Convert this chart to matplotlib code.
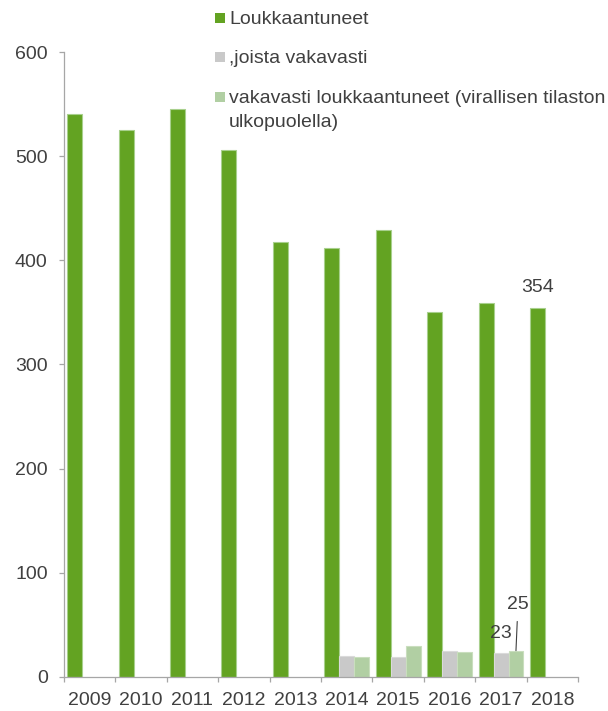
import numpy as np
import matplotlib.pyplot as plt
from matplotlib.patches import Rectangle
from matplotlib.ticker import FixedLocator, NullFormatter

plt.rcParams['font.family'] = ['Liberation Sans', 'DejaVu Sans']

years = ['2009', '2010', '2011', '2012', '2013', '2014', '2015', '2016', '2017', '2018']
injured = [541, 525, 546, 506, 418, 412, 429, 350, 359, 354]
serious = [None, None, None, None, None, 20, 19, 25, 23, None]
serious_outside = [None, None, None, None, None, 19, 29, 24, 25, None]

labels = ['Loukkaantuneet', ',joista vakavasti',
          'vakavasti loukkaantuneet (virallisen tilaston\nulkopuolella)']
GREEN = '#63A322'
GREY = '#C9C9C9'
LIGHT = '#B1CFA3'
TEXT = '#404040'
AXIS = '#A6A6A6'
FS = 14

W, H = 608, 711
x = np.arange(len(years))
w = 0.29

fig = plt.figure(figsize=(W / 100, H / 100), dpi=100)
ax = fig.add_axes([0.105, 0.0483, 0.846, 0.8781])

def vals(seq):
    return [np.nan if v is None else v for v in seq]

ax.bar(x - w, injured, w, color=GREEN, edgecolor='#A8D08D', linewidth=0.8)
ax.bar(x, vals(serious), w, color=GREY, edgecolor='#DADADA', linewidth=0.8)
ax.bar(x + w, vals(serious_outside), w, color=LIGHT, edgecolor='#C9DEBE', linewidth=0.8)

ax.set_xlim(-0.5, len(years) - 0.5)
ax.set_ylim(0, 600)
ax.set_yticks(range(0, 601, 100))

# category boundaries carry the tick marks, centres carry the year labels
ax.xaxis.set_major_locator(FixedLocator(np.arange(-0.5, len(years), 1.0)))
ax.xaxis.set_major_formatter(NullFormatter())
ax.set_xticks(x, minor=True)
ax.set_xticklabels(years, minor=True)
ax.tick_params(axis='x', which='major', length=3.6, color=AXIS, width=0.9)
ax.tick_params(axis='x', which='minor', length=0, pad=11, labelsize=FS, labelcolor=TEXT)
ax.tick_params(axis='y', length=3.6, color=AXIS, width=0.9, pad=8, labelsize=FS, labelcolor=TEXT)

for side in ['top', 'right']:
    ax.spines[side].set_visible(False)
for side in ['left', 'bottom']:
    ax.spines[side].set_color(AXIS)
    ax.spines[side].set_linewidth(0.9)

# value labels
ax.annotate(str(injured[9]), xy=(x[9] - w, injured[9]), xytext=(0, 12),
            textcoords='offset pixels', ha='center', va='bottom', fontsize=FS, color=TEXT)
ax.annotate(str(serious[8]), xy=(x[8], serious[8]), xytext=(0, 19),
            textcoords='offset pixels', ha='center', va='center', fontsize=FS, color=TEXT)
ax.annotate(str(serious_outside[8]), xy=(x[8] + w, serious_outside[8]), xytext=(2, 46),
            textcoords='offset pixels', ha='center', va='center', fontsize=FS, color=TEXT,
            arrowprops=dict(arrowstyle='-', color=TEXT, lw=0.8, shrinkA=4, shrinkB=0))

# legend: square + text, first baseline of each entry in pixels from the top
baselines = [24, 63, 103.3]
for lab, col, base in zip(labels, [GREEN, GREY, LIGHT], baselines):
    fig.add_artist(Rectangle((215 / W, 1 - (base - 1) / H), 10 / W, 10 / H,
                             transform=fig.transFigure, color=col, lw=0))
    for i, line in enumerate(lab.split('\n')):
        fig.text(229 / W, 1 - (base + i * 23.4) / H, line, fontsize=FS,
                 color=TEXT, va='baseline', ha='left')

fig.savefig('out.png', dpi=100)
